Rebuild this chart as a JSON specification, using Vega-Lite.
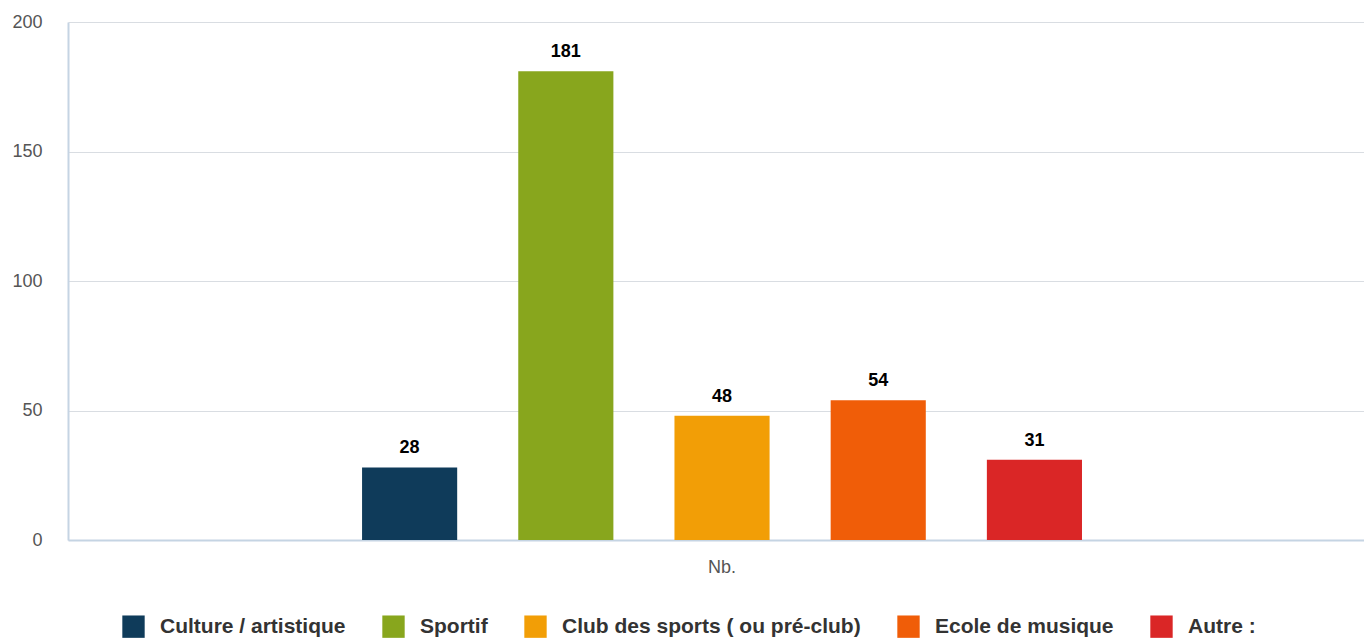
{
  "$schema": "https://vega.github.io/schema/vega-lite/v6.json",
  "width": 1296,
  "height": 518,
  "autosize": {"type": "none"},
  "padding": {"left": 68, "top": 22, "right": 0, "bottom": 98},
  "background": "white",
  "config": {
    "view": {"stroke": null},
    "font": "Liberation Sans"
  },
  "data": {
    "values": [
      {"cat": "Nb.", "serie": "Culture / artistique", "value": 28},
      {"cat": "Nb.", "serie": "Sportif", "value": 181},
      {"cat": "Nb.", "serie": "Club des sports ( ou pré-club)", "value": 48},
      {"cat": "Nb.", "serie": "Ecole de musique", "value": 54},
      {"cat": "Nb.", "serie": "Autre :", "value": 31}
    ]
  },
  "encoding": {
    "x": {
      "field": "cat",
      "type": "nominal",
      "scale": {"paddingInner": 0, "paddingOuter": 0.3297, "align": 0.5117},
      "axis": {
        "title": null,
        "labelAngle": 0,
        "labelFontSize": 18,
        "labelColor": "#555555",
        "labelPadding": 18,
        "ticks": false,
        "domainColor": "#c5d4e3",
        "domainWidth": 2
      }
    },
    "xOffset": {
      "field": "serie",
      "type": "nominal",
      "sort": null,
      "scale": {"paddingInner": 0.391, "paddingOuter": 0.1955}
    },
    "y": {
      "field": "value",
      "type": "quantitative",
      "scale": {"domain": [0, 200]},
      "axis": {
        "title": null,
        "values": [0, 50, 100, 150, 200],
        "labelFontSize": 18,
        "labelColor": "#555555",
        "labelPadding": 26,
        "ticks": false,
        "domainColor": "#c5d4e3",
        "domainWidth": 2,
        "gridColor": "#d9dde2",
        "gridWidth": 1
      }
    }
  },
  "layer": [
    {
      "mark": {"type": "bar"},
      "encoding": {
        "color": {
          "field": "serie",
          "type": "nominal",
          "sort": null,
          "scale": {
            "domain": ["Culture / artistique", "Sportif", "Club des sports ( ou pré-club)", "Ecole de musique", "Autre :"],
            "range": ["#0f3b5a", "#88a61d", "#f29e06", "#f05d08", "#da2626"]
          },
          "legend": {
            "title": null,
            "orient": "none",
            "direction": "horizontal",
            "legendX": 54,
            "legendY": 593,
            "padding": 0,
            "symbolType": "square",
            "symbolSize": 500,
            "symbolStrokeWidth": 0,
            "symbolOpacity": 1,
            "labelFontSize": 21,
            "labelFontWeight": "bold",
            "labelColor": "#333333",
            "labelOffset": 15,
            "columnPadding": 36,
            "labelLimit": 500
          }
        }
      }
    },
    {
      "mark": {"type": "text", "baseline": "alphabetic", "dy": -14, "fontSize": 18, "fontWeight": "bold", "color": "#000000"},
      "encoding": {
        "text": {"field": "value", "type": "quantitative"}
      }
    }
  ]
}
